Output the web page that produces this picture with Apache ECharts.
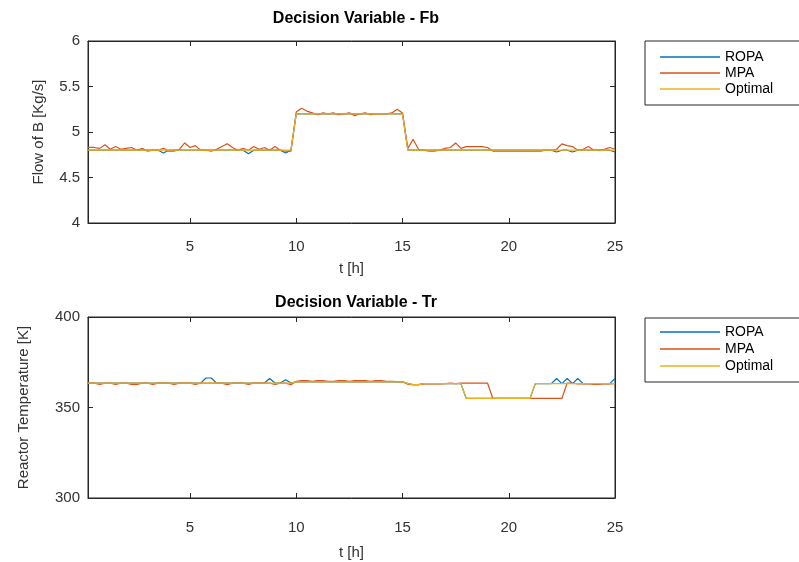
<!DOCTYPE html>
<html>
<head>
<meta charset="utf-8">
<script src="https://cdn.jsdelivr.net/npm/echarts@6/dist/echarts.min.js"></script>
<style>html,body{margin:0;padding:0;background:#fff;}#c{width:799px;height:562px;}</style>
</head>
<body>
<div id="c"></div>
<script>
// time [h]
var times = [0.2,0.5,0.75,1,1.25,1.5,1.75,2,2.25,2.5,
  2.75,3,3.25,3.5,3.75,4,4.25,4.5,4.75,5,
  5.25,5.5,5.75,6,6.25,6.5,6.75,7,7.25,7.5,
  7.75,8,8.25,8.5,8.75,9,9.25,9.5,9.75,10,
  10.25,10.5,10.75,11,11.25,11.5,11.75,12,12.25,12.5,
  12.75,13,13.25,13.5,13.75,14,14.25,14.5,14.75,15,
  15.25,15.5,15.75,16,16.25,16.5,16.75,17,17.25,17.5,
  17.75,18,18.25,18.5,18.75,19,19.25,19.5,19.75,20,
  20.25,20.5,20.75,21,21.25,21.5,21.75,22,22.25,22.5,
  22.75,23,23.25,23.5,23.75,24,24.25,24.5,24.75,25];

// Flow of B [Kg/s]
var fbROPA = [4.80,4.80,4.80,4.80,4.80,4.80,4.80,4.80,4.80,4.80,
  4.80,4.80,4.80,4.80,4.77,4.80,4.80,4.80,4.80,4.80,
  4.80,4.80,4.80,4.80,4.80,4.80,4.80,4.80,4.80,4.80,
  4.76,4.80,4.80,4.80,4.80,4.80,4.80,4.77,4.80,5.20,
  5.20,5.20,5.20,5.20,5.20,5.20,5.20,5.20,5.20,5.20,
  5.20,5.20,5.20,5.20,5.20,5.20,5.20,5.20,5.20,5.20,
  4.80,4.80,4.80,4.80,4.80,4.80,4.80,4.80,4.80,4.80,
  4.80,4.80,4.80,4.80,4.80,4.80,4.80,4.80,4.80,4.80,
  4.80,4.80,4.80,4.80,4.80,4.80,4.80,4.80,4.78,4.80,
  4.80,4.78,4.80,4.80,4.80,4.80,4.80,4.80,4.80,4.78];
var fbMPA = [4.83,4.83,4.82,4.86,4.81,4.84,4.81,4.82,4.83,4.80,
  4.82,4.79,4.80,4.80,4.82,4.79,4.79,4.81,4.88,4.83,
  4.85,4.80,4.80,4.79,4.81,4.84,4.87,4.83,4.80,4.82,
  4.80,4.84,4.81,4.83,4.80,4.84,4.80,4.79,4.79,5.22,
  5.26,5.23,5.21,5.19,5.21,5.20,5.21,5.19,5.20,5.21,
  5.18,5.20,5.21,5.19,5.20,5.20,5.20,5.21,5.25,5.21,
  4.82,4.92,4.81,4.80,4.79,4.79,4.80,4.82,4.83,4.88,
  4.82,4.84,4.84,4.84,4.84,4.83,4.79,4.79,4.79,4.79,
  4.79,4.79,4.79,4.79,4.79,4.79,4.80,4.80,4.81,4.87,
  4.85,4.84,4.80,4.81,4.84,4.80,4.80,4.81,4.83,4.81];
var fbOptimal = [4.80,4.80,4.80,4.80,4.80,4.80,4.80,4.80,4.80,4.80,
  4.80,4.80,4.80,4.80,4.80,4.80,4.80,4.80,4.80,4.80,
  4.80,4.80,4.80,4.80,4.80,4.80,4.80,4.80,4.80,4.80,
  4.80,4.80,4.80,4.80,4.80,4.80,4.80,4.80,4.80,5.20,
  5.20,5.20,5.20,5.20,5.20,5.20,5.20,5.20,5.20,5.20,
  5.20,5.20,5.20,5.20,5.20,5.20,5.20,5.20,5.20,5.20,
  4.80,4.80,4.80,4.80,4.80,4.80,4.80,4.80,4.80,4.80,
  4.80,4.80,4.80,4.80,4.80,4.80,4.80,4.80,4.80,4.80,
  4.80,4.80,4.80,4.80,4.80,4.80,4.80,4.80,4.80,4.80,
  4.80,4.80,4.80,4.80,4.80,4.80,4.80,4.80,4.80,4.80];

// Reactor temperature [K]
var trROPA = [363.5,363.5,363.5,363.5,363.5,363.5,363.5,363.5,363.5,363.5,
  363.5,363.5,363.5,363.5,363.5,363.5,363.5,363.5,363.5,363.5,
  363.5,363.5,366.3,366.3,363.5,363.5,363.5,363.5,363.5,363.5,
  363.5,363.5,363.5,363.5,366.0,363.5,363.5,365.3,363.5,364.2,
  364.2,364.2,364.2,364.2,364.2,364.2,364.2,364.2,364.2,364.2,
  364.2,364.2,364.2,364.2,364.2,364.2,364.2,364.2,364.2,364.2,
  363.2,362.6,362.6,363.2,363.2,363.2,363.2,363.2,363.2,363.2,
  363.2,355,355,355,355,355,355,355,355,355,
  355,355,355,355,363.2,363.2,363.2,363.2,366.0,363.2,
  366.0,363.2,366.0,363.2,363.2,363.2,363.2,363.2,363.2,366.0];
var trMPA = [363.5,363.5,362.7,363.5,363.5,362.8,363.5,363.5,362.7,362.7,
  363.5,363.5,362.8,363.5,363.5,363.5,362.7,363.5,363.5,363.5,
  362.8,363.5,363.5,363.5,363.5,363.5,362.6,363.5,363.5,363.5,
  362.8,363.5,363.5,363.5,363.5,362.7,363.5,363.5,362.6,364.5,
  364.8,364.8,364.5,364.8,364.8,364.5,364.5,364.8,364.8,364.5,
  364.8,364.8,364.8,364.5,364.8,364.8,364.5,364.5,364.3,364.2,
  362.8,362.6,362.6,363.0,363.0,363.0,363.0,363.2,363.5,363.2,
  363.5,363.5,363.5,363.5,363.5,363.5,355,355,355,355,
  355,355,355,355,355,355,355,355,355,355,
  363.5,363.5,363.0,363.0,363.2,362.8,362.8,363.2,363.0,363.2];
var trOptimal = [363.5,363.5,363.5,363.5,363.5,363.5,363.5,363.5,363.5,363.5,
  363.5,363.5,363.5,363.5,363.5,363.5,363.5,363.5,363.5,363.5,
  363.5,363.5,363.5,363.5,363.5,363.5,363.5,363.5,363.5,363.5,
  363.5,363.5,363.5,363.5,363.5,363.5,363.5,363.5,363.5,364.2,
  364.2,364.2,364.2,364.2,364.2,364.2,364.2,364.2,364.2,364.2,
  364.2,364.2,364.2,364.2,364.2,364.2,364.2,364.2,364.2,364.2,
  363.2,362.6,362.6,363.2,363.2,363.2,363.2,363.2,363.2,363.2,
  363.2,355,355,355,355,355,355,355,355,355,
  355,355,355,355,363.2,363.2,363.2,363.2,363.2,363.2,
  363.2,363.2,363.2,363.2,363.2,363.2,363.2,363.2,363.2,363.2];

var xTicks = [5,10,15,20,25];
var seriesNames = ['ROPA','MPA','Optimal'];
var colors = ['#0072BD','#D95319','#EDB120'];

function pairs(ys){ return times.map(function(t,i){ return [t, ys[i]]; }); }

var FONT = '"Liberation Sans", Arial, Helvetica, sans-serif';
var AX = '#262626';
var TXT = '#333333';

function xAx(grid, pos, labels, margin, gap){
  return {
    type:'value', gridIndex:grid, position:pos, min:0.2, max:25,
    name: labels ? 't [h]' : '', nameLocation:'middle', nameGap:gap || 0,
    nameTextStyle:{fontFamily:FONT, fontSize:15, color:TXT},
    axisLine:{show:true, onZero:false, lineStyle:{color:AX, width:1}},
    axisTick:{show:true, inside:true, length:5, customValues:xTicks, lineStyle:{color:AX}},
    axisLabel:{show:labels, customValues:xTicks, margin:margin || 10, fontFamily:FONT, fontSize:15, color:TXT},
    splitLine:{show:false}
  };
}
function yAx(grid, pos, labels, mn, mx, iv, name, gap){
  return {
    type:'value', gridIndex:grid, position:pos, min:mn, max:mx, interval:iv,
    name: labels ? name : '', nameLocation:'middle', nameGap:gap,
    nameTextStyle:{fontFamily:FONT, fontSize:15, color:TXT},
    axisLine:{show:true, onZero:false, lineStyle:{color:AX, width:1}},
    axisTick:{show:true, inside:true, length:5, lineStyle:{color:AX}},
    axisLabel:{show:labels, margin:8, fontFamily:FONT, fontSize:15, color:TXT},
    splitLine:{show:false}
  };
}

var data = [[fbROPA, fbMPA, fbOptimal],[trROPA, trMPA, trOptimal]];
var series = [];
for (var g=0; g<2; g++){
  for (var k=0; k<3; k++){
    series.push({
      name:seriesNames[k], type:'line', xAxisIndex:g*2, yAxisIndex:g*2,
      data:pairs(data[g][k]), symbol:'none', showSymbol:false,
      lineStyle:{color:colors[k], width:1.2}, itemStyle:{color:colors[k]},
      animation:false, z:2+k
    });
  }
}

function legend(top, gap, padTop, padBot){
  return {
    orient:'vertical', left:645, top:top, icon:'rect', itemWidth:60, itemHeight:1.5,
    itemGap:gap, padding:[padTop,40,padBot,15], borderColor:'#262626', borderWidth:1,
    backgroundColor:'#fff', selectedMode:false,
    textStyle:{fontFamily:FONT, fontSize:14, color:'#000', lineHeight:14},
    data:seriesNames
  };
}

var option = {
  backgroundColor:'#fff',
  animation:false,
  title:[
    {text:'Decision Variable - Fb', left:351, top:6, textAlign:'center',
     textStyle:{fontFamily:FONT, fontSize:16, fontWeight:'bold', color:'#000'}},
    {text:'Decision Variable - Tr', left:351, top:290, textAlign:'center',
     textStyle:{fontFamily:FONT, fontSize:16, fontWeight:'bold', color:'#000'}}
  ],
  legend:[legend(41, 2, 9, 9), legend(318, 3, 7, 9)],
  grid:[
    {left:88, top:41, width:527, height:182, show:true, borderColor:AX, borderWidth:1},
    {left:88, top:317, width:527, height:181, show:true, borderColor:AX, borderWidth:1}
  ],
  xAxis:[xAx(0,'bottom',true,16,38), xAx(0,'top',false), xAx(1,'bottom',true,22,47), xAx(1,'top',false)],
  yAxis:[
    yAx(0,'left',true,4,6,0.5,'Flow of B [Kg/s]',42),
    yAx(0,'right',false,4,6,0.5,'',0),
    yAx(1,'left',true,300,400,50,'Reactor Temperature [K]',57),
    yAx(1,'right',false,300,400,50,'',0)
  ],
  series:series
};
var chart = echarts.init(document.getElementById('c'), null, {renderer:'canvas'});
chart.setOption(option);
</script>
</body>
</html>
